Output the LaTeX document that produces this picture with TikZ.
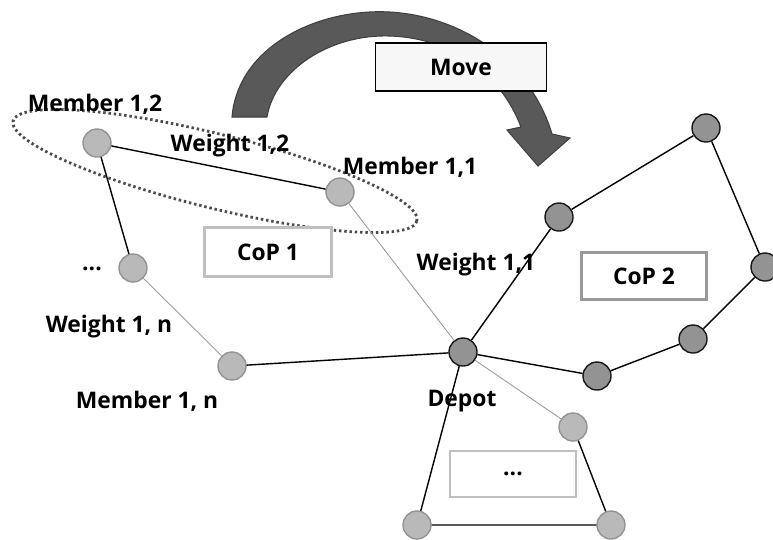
\documentclass[tikz,border=0pt]{standalone}
\usepackage{fontspec}
\setmainfont{Open Sans}
\usetikzlibrary{positioning}

\begin{document}
\begin{tikzpicture}[x=0.02cm, y=-0.02cm,
  lbl/.style={font=\fontsize{13}{15}\selectfont\bfseries, inner sep=1pt},
  member/.style={circle, fill=gray!55, draw=gray!85, line width=0.8pt, minimum size=0.56cm, inner sep=0pt},
  hub/.style={circle, fill=gray!85, draw=black!90, line width=0.8pt, minimum size=0.56cm, inner sep=0pt},
  cop/.style={rectangle, draw=#1, line width=1.6pt, fill=white, align=center, font=\fontsize{13}{15}\selectfont\bfseries, inner sep=0pt},
  edge/.style={black, line width=0.8pt},
  weak/.style={gray!80, line width=0.5pt}
]
  \useasboundingbox (0,0) rectangle (773,539);

  % move arrow
  \filldraw[fill=black!65, draw=black!75, line width=0.6pt]
    (232,117) .. controls (238,45) and (320,8) .. (390,12)
    .. controls (460,16) and (530,60) .. (552,134)
    -- (570,138) -- (538,166) -- (507,130) -- (521,127)
    .. controls (500,72) and (450,38) .. (390,36)
    .. controls (330,34) and (275,70) .. (267,117) -- cycle;
  \node[rectangle, draw=black, line width=0.6pt, fill=gray!6, minimum width=3.42cm, minimum height=0.96cm,
        font=\fontsize{13}{15}\selectfont\bfseries] (move) at (461,67) {Move};

  % group of CoP 1 members
  \draw[black!70, line width=1.6pt, dash pattern=on 1.4pt off 1.6pt, rotate around={-13.9:(215,171)}] (215,171) ellipse (208 and 37);

  % nodes
  \node[member] (m12)  at (97,143)  {};
  \node[member] (m11)  at (340,192) {};
  \node[member] (mdot) at (133,268) {};
  \node[member] (m1n)  at (232,366) {};
  \node[hub]    (depot) at (463,352) {};
  \node[hub] (c2a) at (559,217) {};
  \node[hub] (c2b) at (706,128) {};
  \node[hub] (c2c) at (765,267) {};
  \node[hub] (c2d) at (693,339) {};
  \node[hub] (c2e) at (597,376) {};
  \node[member] (c3a) at (573,427) {};
  \node[member] (c3b) at (611,525) {};
  \node[member] (c3c) at (417,525) {};

  % routes
  \draw[edge] (m12) -- (m11);
  \draw[edge] (m12) -- (mdot);
  \draw[weak] (mdot) -- (m1n);
  \draw[edge] (m1n) -- (depot);
  \draw[weak] (m11) -- (depot);
  \draw[edge] (depot) -- (c2a) -- (c2b) -- (c2c) -- (c2d) -- (c2e) -- (depot);
  \draw[weak] (depot) -- (c3a);
  \draw[edge] (c3a) -- (c3b) -- (c3c) -- (depot);

  % boxes
  \node[cop=gray!50, minimum width=2.54cm, minimum height=0.98cm] (cop1) at (268,252) {CoP 1};
  \node[cop=gray!80, minimum width=2.5cm, minimum height=0.94cm] (cop2) at (644,276) {CoP 2};
  \node[cop=gray!50, minimum width=2.52cm, minimum height=0.92cm] (cop3) at (513,474) {...};

  % labels
  \node[lbl] (l12)  at (95,104)  {Member 1,2};
  \node[lbl] (w12)  at (230,146) {Weight 1,2};
  \node[lbl] (l11)  at (410,167) {Member 1,1};
  \node[lbl] (w11)  at (476,265) {Weight 1,1};
  \node[lbl] (ldot) at (92,269)  {...};
  \node[lbl] (w1n)  at (109,327) {Weight 1, n};
  \node[lbl] (l1n)  at (147,401) {Member 1, n};
  \node[lbl] (ldep) at (462,401) {Depot};
\end{tikzpicture}
\end{document}
